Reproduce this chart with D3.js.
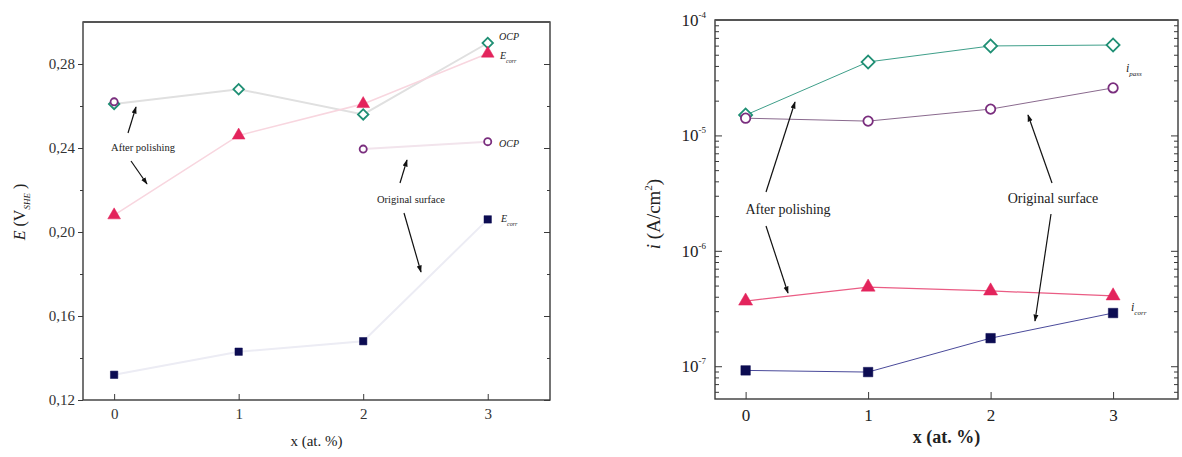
<!DOCTYPE html>
<html>
<head>
<meta charset="utf-8">
<script src="https://cdn.jsdelivr.net/npm/d3@7"></script>
<style>
  html, body { margin: 0; padding: 0; background: #fff; }
  svg { display: block; font-family: "Liberation Serif", "Times New Roman", serif; }
</style>
</head>
<body>
<svg id="chart" width="1182" height="457"></svg>
<script>
// Composition x (at. %)
const xValues = [0, 1, 2, 3];

// Left panel: potentials E (V_SHE)
const ocpPolished = [0.261, 0.268, 0.256, 0.290];
const ecorrPolished = [0.208, 0.246, 0.261, 0.285];
const ocpOriginal = [0.262, null, 0.2395, 0.243];
const ecorrOriginal = [0.132, 0.143, 0.148, 0.206];
const potentialTicks = [0.12, 0.16, 0.20, 0.24, 0.28];
const potentialMinor = [0.14, 0.18, 0.22, 0.26];

// Right panel: current densities i (A/cm²)
const ipassPolished = [1.50e-5, 4.33e-5, 5.96e-5, 6.07e-5];
const ipassOriginal = [1.41e-5, 1.33e-5, 1.69e-5, 2.58e-5];
const icorrPolished = [3.67e-7, 4.85e-7, 4.49e-7, 4.07e-7];
const icorrOriginal = [9.2e-8, 8.9e-8, 1.75e-7, 2.89e-7];
const currentTicks = [1e-7, 1e-6, 1e-5, 1e-4];
const currentTickExp = ["-7", "-6", "-5", "-4"];

const svg = d3.select("#chart");
const C = {
  diamond: "#1f8f74", circle: "#7a2e7e", triangle: "#e3245c", square: "#0c0c52",
  frame: "#3a3a3a"
};

// ---------- shared helpers ----------
function frame(g, x0, x1, y0, y1) {
  g.append("rect").attr("x", x0).attr("y", y0).attr("width", x1 - x0).attr("height", y1 - y0)
    .attr("fill", "none").attr("stroke", C.frame).attr("stroke-width", 1.4);
  g.append("line").attr("x1", x0).attr("x2", x1).attr("y1", y0).attr("y2", y0)
    .attr("stroke", "#555").attr("stroke-width", 2.2);
}

function drawSeries(g, x, y, values, opts) {
  const pts = xValues.map((d, i) => ({ x: d, v: values[i] }));
  const line = d3.line().defined(d => d.v != null).x(d => x(d.x)).y(d => y(d.v));
  g.append("path").datum(pts).attr("d", line).attr("fill", "none")
    .attr("stroke", opts.lineColor).attr("stroke-width", opts.lineWidth);
  const sym = d3.symbol().type(opts.type).size(opts.size);
  g.selectAll(null).data(pts.filter(d => d.v != null)).join("path")
    .attr("d", sym)
    .attr("transform", d => `translate(${x(d.x)},${y(d.v)})` + (opts.rotate ? " rotate(45)" : ""))
    .attr("fill", opts.fill).attr("stroke", opts.stroke).attr("stroke-width", opts.strokeWidth);
}

function arrow(g, x1, y1, x2, y2) {
  g.append("line").attr("x1", x1).attr("y1", y1).attr("x2", x2).attr("y2", y2)
    .attr("stroke", "#111").attr("stroke-width", 1.2).attr("marker-end", "url(#head)");
}

svg.append("defs").append("marker").attr("id", "head")
  .attr("viewBox", "0 0 10 10").attr("refX", 9).attr("refY", 5)
  .attr("markerWidth", 6).attr("markerHeight", 6).attr("orient", "auto")
  .append("path").attr("d", "M0,1.5 L10,5 L0,8.5 Z").attr("fill", "#111");

// ---------- left panel: potentials ----------
const L = { x0: 83, x1: 550, y0: 22, y1: 400 };
const xL = d3.scaleLinear().domain([-0.25, 3.5]).range([L.x0, L.x1]);
const yL = d3.scaleLinear().domain([0.12, 0.30]).range([L.y1, L.y0]);
const gL = svg.append("g");

drawSeries(gL, xL, yL, ocpPolished, { type: d3.symbolSquare, rotate: true, size: 55, fill: "#fff", stroke: C.diamond, strokeWidth: 1.8, lineColor: "#e0e0e0", lineWidth: 2 });
drawSeries(gL, xL, yL, ecorrPolished, { type: d3.symbolTriangle, size: 70, fill: C.triangle, stroke: C.triangle, strokeWidth: 0.5, lineColor: "#f8d6df", lineWidth: 1.6 });
drawSeries(gL, xL, yL, ocpOriginal, { type: d3.symbolCircle, size: 40, fill: "#fff", stroke: C.circle, strokeWidth: 1.8, lineColor: "#f2e4ec", lineWidth: 2 });
drawSeries(gL, xL, yL, ecorrOriginal, { type: d3.symbolSquare, size: 55, fill: C.square, stroke: C.square, strokeWidth: 0.5, lineColor: "#ececf4", lineWidth: 2 });

// axes of left panel
const axL = d3.axisLeft(yL).tickValues(potentialTicks).tickSize(5).tickPadding(3)
  .tickFormat(d => d3.format(".2f")(d).replace(".", ","));
gL.append("g").attr("transform", `translate(${L.x0},0)`).call(axL);
gL.append("g").attr("transform", `translate(${L.x0},0)`)
  .call(d3.axisLeft(yL).tickValues(potentialMinor).tickSize(3).tickFormat(""));
gL.append("g").attr("transform", `translate(${L.x1},0)`)
  .call(d3.axisLeft(yL).tickValues(potentialTicks).tickSize(6).tickFormat(""));
gL.append("g").attr("transform", `translate(${L.x1},0)`)
  .call(d3.axisLeft(yL).tickValues(potentialMinor).tickSize(3).tickFormat(""));
gL.append("g").attr("transform", `translate(0,${L.y1})`)
  .call(d3.axisBottom(xL).tickValues(xValues).tickSizeInner(-6).tickSizeOuter(0).tickPadding(8).tickFormat(d3.format("d")));
gL.selectAll(".domain").remove();
gL.selectAll(".tick line").attr("stroke", C.frame);
gL.selectAll(".tick text").attr("font-size", 15).attr("fill", "#333")
  .attr("font-family", "Liberation Serif, serif");
frame(gL, L.x0, L.x1, L.y0, L.y1);

gL.append("text").attr("x", (L.x0 + L.x1) / 2).attr("y", 446).attr("text-anchor", "middle")
  .attr("font-size", 15).attr("fill", "#222").text("x (at. %)");
const yLab = gL.append("text").attr("transform", "translate(25,212) rotate(-90)")
  .attr("text-anchor", "middle").attr("font-size", 16).attr("fill", "#222");
yLab.append("tspan").attr("font-style", "italic").text("E");
yLab.append("tspan").text(" (V");
yLab.append("tspan").attr("font-size", 9).attr("font-style", "italic").attr("dy", 5).text("SHE");
yLab.append("tspan").attr("dy", -5).text(" )");

function subLabel(g, x, y, main, sub, size, subSize) {
  const t = g.append("text").attr("x", x).attr("y", y).attr("font-size", size)
    .attr("font-style", "italic").attr("fill", "#222");
  t.append("tspan").text(main);
  if (sub) t.append("tspan").attr("font-size", subSize).attr("dy", size * 0.35).text(sub);
}
subLabel(gL, 499, 40, "OCP", null, 10);
subLabel(gL, 500, 59, "E", "corr", 10, 6);
subLabel(gL, 499, 147, "OCP", null, 10);
subLabel(gL, 501, 222, "E", "corr", 10, 6);

gL.append("text").attr("x", 143).attr("y", 151).attr("text-anchor", "middle")
  .attr("font-size", 10.5).attr("fill", "#222").text("After polishing");
arrow(gL, 128, 133, 136, 107);
arrow(gL, 131, 161, 147, 184);
gL.append("text").attr("x", 411).attr("y", 203).attr("text-anchor", "middle")
  .attr("font-size", 10.5).attr("fill", "#222").text("Original surface");
arrow(gL, 400, 183, 407, 160);
arrow(gL, 404, 213, 421, 272);

// ---------- right panel: current densities ----------
const R = { x0: 715, x1: 1178, y0: 20, y1: 399 };
const xR = d3.scaleLinear().domain([-0.25, 3.53]).range([R.x0, R.x1]);
const yR = d3.scaleLog().domain([5.2e-8, 1e-4]).range([R.y1, R.y0]);
const gR = svg.append("g");

drawSeries(gR, xR, yR, ipassPolished, { type: d3.symbolSquare, rotate: true, size: 85, fill: "#fff", stroke: C.diamond, strokeWidth: 1.8, lineColor: "#3f9f8a", lineWidth: 1 });
drawSeries(gR, xR, yR, ipassOriginal, { type: d3.symbolCircle, size: 70, fill: "#fff", stroke: C.circle, strokeWidth: 1.8, lineColor: "#8a6a8e", lineWidth: 1 });
drawSeries(gR, xR, yR, icorrPolished, { type: d3.symbolTriangle, size: 85, fill: C.triangle, stroke: C.triangle, strokeWidth: 0.5, lineColor: "#ea5c84", lineWidth: 1.2 });
drawSeries(gR, xR, yR, icorrOriginal, { type: d3.symbolSquare, size: 90, fill: C.square, stroke: C.square, strokeWidth: 0.5, lineColor: "#4a4a9a", lineWidth: 1 });

// minor log ticks (2..9 within each decade)
const minorR = [];
for (let e = -8; e <= -5; e++) for (let m = 2; m <= 9; m++) {
  const v = m * Math.pow(10, e);
  if (v >= 5.2e-8 && v <= 1e-4) minorR.push(v);
}
const axR = d3.axisLeft(yR).tickValues(currentTicks).tickSizeInner(-7).tickSizeOuter(0).tickPadding(9).tickFormat("");
const gAxR = gR.append("g").attr("transform", `translate(${R.x0},0)`).call(axR);
gAxR.selectAll(".tick text").each(function (d, i) {
  const t = d3.select(this);
  t.append("tspan").text("10");
  t.append("tspan").attr("font-size", 9).attr("dy", -8).text(currentTickExp[i]);
});
gR.append("g").attr("transform", `translate(${R.x0},0)`)
  .call(d3.axisLeft(yR).tickValues(minorR).tickSizeInner(-4).tickSizeOuter(0).tickFormat(""));
gR.append("g").attr("transform", `translate(${R.x1},0)`)
  .call(d3.axisLeft(yR).tickValues(currentTicks).tickSizeInner(7).tickSizeOuter(0).tickFormat(""));
gR.append("g").attr("transform", `translate(${R.x1},0)`)
  .call(d3.axisLeft(yR).tickValues(minorR).tickSizeInner(4).tickSizeOuter(0).tickFormat(""));
gR.append("g").attr("transform", `translate(0,${R.y1})`)
  .call(d3.axisBottom(xR).tickValues(xValues).tickSizeInner(-7).tickSizeOuter(0).tickPadding(10).tickFormat(d3.format("d")));
gR.selectAll(".domain").remove();
gR.selectAll(".tick line").attr("stroke", C.frame);
gR.selectAll(".tick text").attr("font-size", 17).attr("fill", "#222")
  .attr("font-family", "Liberation Serif, serif");
frame(gR, R.x0, R.x1, R.y0, R.y1);

gR.append("text").attr("x", (R.x0 + R.x1) / 2).attr("y", 443).attr("text-anchor", "middle")
  .attr("font-size", 18).attr("font-weight", "bold").attr("fill", "#222").text("x (at. %)");
const yLabR = gR.append("text").attr("transform", "translate(660,214) rotate(-90)")
  .attr("text-anchor", "middle").attr("font-size", 19).attr("fill", "#222");
yLabR.append("tspan").attr("font-style", "italic").text("i");
yLabR.append("tspan").text(" (A/cm");
yLabR.append("tspan").attr("font-size", 11).attr("dy", -8).text("2");
yLabR.append("tspan").attr("dy", 8).text(")");

subLabel(gR, 1126, 72, "i", "pass", 12, 7);
subLabel(gR, 1131, 311, "i", "corr", 12, 7);

gR.append("text").attr("x", 788).attr("y", 214).attr("text-anchor", "middle")
  .attr("font-size", 14).attr("fill", "#222").text("After polishing");
arrow(gR, 766, 192, 795, 102);
arrow(gR, 766, 226, 788, 293);
gR.append("text").attr("x", 1053).attr("y", 203).attr("text-anchor", "middle")
  .attr("font-size", 14).attr("fill", "#222").text("Original surface");
arrow(gR, 1052, 183, 1028, 115);
arrow(gR, 1051, 214, 1035, 321);
</script>
</body>
</html>
